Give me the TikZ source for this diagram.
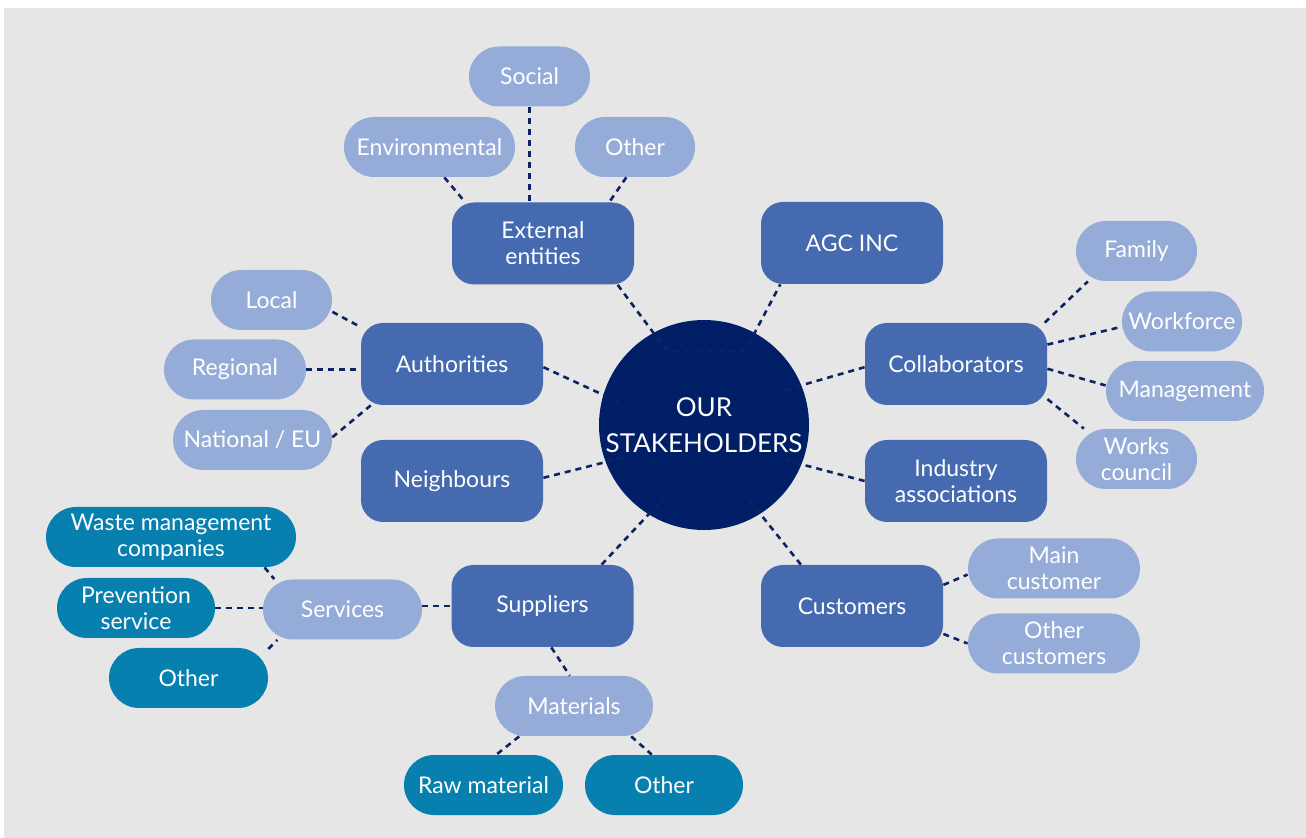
\documentclass[tikz,border=0pt]{standalone}
\usepackage{fontspec}
\setmainfont{Lato}
\usepackage{tikz}

\definecolor{bggrey}{HTML}{E6E6E6}
\definecolor{midblue}{HTML}{456AAF}
\definecolor{lightblue}{HTML}{95ACD8}
\definecolor{seacol}{HTML}{0780AF}
\definecolor{navycol}{HTML}{001F67}
\definecolor{linecol}{HTML}{0C2463}

\tikzset{
	mid/.style={fill=midblue, rounded corners=11pt, minimum width=91pt, minimum height=41pt, inner sep=0pt, text=white, align=center, font=\fontsize{11.5}{13}\selectfont},
	leaf/.style={fill=lightblue, rounded corners=15pt, minimum height=30pt, inner sep=0pt, text=white, align=center, font=\fontsize{11.5}{13}\selectfont},
	sub/.style={leaf, fill=seacol},
	link/.style={draw=linecol, line width=1.3pt, dash pattern=on 3pt off 2.5pt}
}

\begin{document}
\begin{tikzpicture}[x=0.5pt,y=-0.5pt]
		\useasboundingbox (0,0) rectangle (1306,838);
		\fill[bggrey] (4,8) rectangle (1306,838);
		\node[circle, fill=navycol, minimum size=105pt, inner sep=0pt, text=white, align=center, font=\fontsize{13}{18}\selectfont] (hub) at (704,425) {OUR\\STAKEHOLDERS};
		\node[mid] (extent) at (543,243.5) {External\\entities}; \node[mid] (agc) at (852,243) {AGC INC};
		\node[mid] (auth) at (452,364) {Authorities}; \node[mid] (neigh) at (452,481) {Neighbours};
		\node[mid] (collab) at (956,364) {Collaborators}; \node[mid] (indus) at (956,481) {Industry\\associations};
		\node[mid] (suppl) at (542.5,606) {Suppliers}; \node[mid] (custs) at (852,606) {Customers};
		\node[leaf, minimum width=60.5pt] (social) at (529.5,76.5) {Social};
		\node[leaf, minimum width=85.5pt] (environ) at (429.5,147) {Environmental};
		\node[leaf, minimum width=60pt] (extother) at (635,147) {Other};
		\node[leaf, minimum width=60.5pt] (local) at (271.5,300) {Local};
		\node[leaf, minimum width=71pt] (regional) at (235,369.5) {Regional};
		\node[leaf, minimum width=79.5pt] (national) at (252.5,440) {National / EU};
		\node[leaf, minimum width=60.5pt] (family) at (1136.5,251) {Family};
		\node[leaf, minimum width=60pt] (workforce) at (1182,321.5) {Workforce};
		\node[leaf, minimum width=79pt] (mgmt) at (1185,391) {Management};
		\node[leaf, minimum width=60.5pt] (works) at (1136.5,459) {Works\\council};
		\node[leaf, minimum width=86pt] (maincust) at (1054,568.5) {Main\\customer};
		\node[leaf, minimum width=86pt] (othercust) at (1054,643.5) {Other\\customers};
		\node[leaf, minimum width=79.5pt] (services) at (342.5,609.5) {Services};
		\node[leaf, minimum width=79pt] (materials) at (574,706) {Materials};
		\node[sub, minimum width=125pt] (waste) at (171,537) {Waste management\\companies};
		\node[sub, minimum width=79pt] (prevent) at (136,608) {Prevention\\service};
		\node[sub, minimum width=79.5pt] (servother) at (188.5,678) {Other};
		\node[sub, minimum width=79.5pt] (raw) at (483.5,785) {Raw material};
		\node[sub, minimum width=79pt] (matother) at (664,785) {Other};

		\draw[link] (environ.-64) -- (extent.152); \draw[link] (social.south) -- (social.south |- extent.north); \draw[link] (extother.-106) -- (extent.32);
		\coordinate (jl) at (667,351); \coordinate (jr) at (745,351);
		\draw[link, rounded corners=3pt] (extent.-29) -- (jl) -- (jr) -- (agc.-150);
		\draw[link] (auth.-2.5) -- ([shift={(165.5:41.8pt)}]hub.center); \draw[link] (neigh.2) -- ([shift={(202.7:40pt)}]hub.center);
		\draw[link] (collab.182) -- ([shift={(23.4:44pt)}]hub.center); \draw[link] (indus.180) -- ([shift={(-23.4:44pt)}]hub.center);
		\draw[link] (suppl.35) -- ([shift={(241.8:40pt)}]hub.center); \draw[link] (custs.141) -- ([shift={(300.4:40.5pt)}]hub.center);
		\draw[link] (local.-11) -- (auth.158); \draw[link] (regional.east) -- (regional.east -| auth.west); \draw[link] (national.2) -- (auth.207);
		\draw[link] (collab.25) -- (family.212); \draw[link] (collab.12) -- (workforce.185); \draw[link] (collab.-3) -- (mgmt.176); \draw[link] (collab.-21) -- (works.150);
		\draw[link] (custs.13) -- (maincust.184); \draw[link] (custs.-17) -- (othercust.180);
		\draw[link] (waste.-18) -- (services.156); \draw[link] (prevent.east) -- (prevent.east -| services.west); \draw[link] (servother.20) -- (services.205);
		\draw[link] (services.east |- suppl.west) -- (suppl.west);
		\draw[link] (suppl.-78) -- (materials.98); \draw[link] (materials.209) -- (raw.67); \draw[link] (materials.-28) -- (matother.112);
	\end{tikzpicture}
\end{document}
